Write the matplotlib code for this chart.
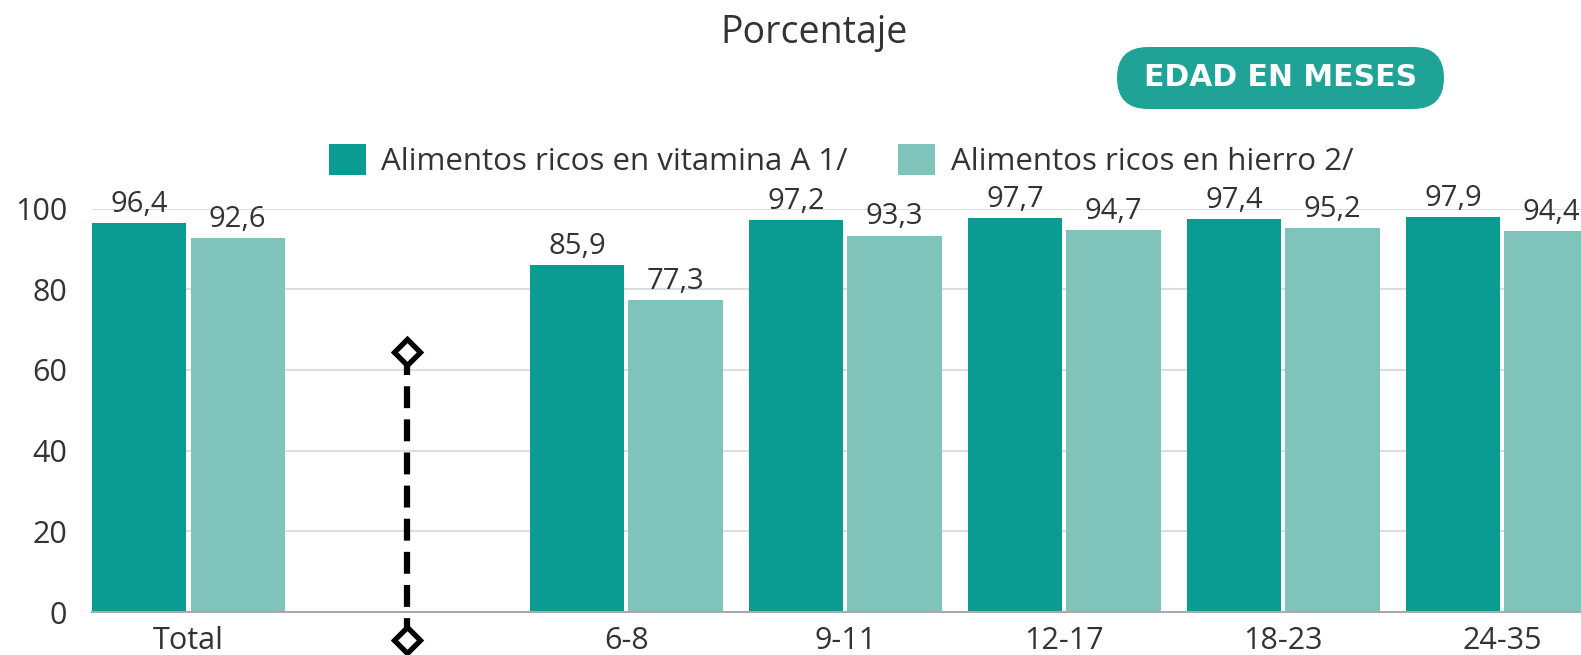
import matplotlib
matplotlib.use("Agg")
import matplotlib.pyplot as plt
from matplotlib.patches import Patch, FancyBboxPatch
from matplotlib.transforms import IdentityTransform

# --- Datos ---
categorias = ["Total", "", "6-8", "9-11", "12-17", "18-23", "24-35"]
vitamina_a = [96.4, None, 85.9, 97.2, 97.7, 97.4, 97.9]
hierro = [92.6, None, 77.3, 93.3, 94.7, 95.2, 94.4]
etiquetas_y = [0, 20, 40, 60, 80, 100]
serie_nombres = ["Alimentos ricos en vitamina A 1/", "Alimentos ricos en hierro 2/"]
separador_y = [-7, 64.5]

C_DARK = "#0a9c92"
C_LIGHT = "#80c3bb"
C_TEXT = "#333333"

plt.rcParams["font.family"] = ["Open Sans", "DejaVu Sans"]

fig = plt.figure(figsize=(15.81, 6.55), dpi=100)
fig.patch.set_facecolor("white")
ax = fig.add_axes([0.0582, 0.0656, 0.9418, 0.616])

ancho = 0.43
desp = 0.225
for i, (va, hi) in enumerate(zip(vitamina_a, hierro)):
    if va is None:
        continue
    ax.bar(i - desp, va, width=ancho, color=C_DARK, zorder=2)
    ax.bar(i + desp, hi, width=ancho, color=C_LIGHT, zorder=2)
    ax.annotate(f"{va:.1f}".replace(".", ","), (i - desp, va), xytext=(0, 3),
                textcoords="offset points", ha="center", va="bottom",
                fontsize=21, color=C_TEXT, annotation_clip=False)
    ax.annotate(f"{hi:.1f}".replace(".", ","), (i + desp, hi), xytext=(0, 3),
                textcoords="offset points", ha="center", va="bottom",
                fontsize=21, color=C_TEXT, annotation_clip=False)

# separador punteado entre Total y grupos de edad
sep_x = categorias.index("")
ax.plot([sep_x, sep_x], separador_y, color="black", lw=4.5,
        linestyle=(0, (3.5, 1.8)), clip_on=False, zorder=4)
ax.plot([sep_x, sep_x], separador_y, linestyle="none", marker="D",
        markersize=13, markerfacecolor="white", markeredgecolor="black",
        markeredgewidth=3.8, clip_on=False, zorder=5)

ax.set_xlim(-0.44, 6.36)
ax.set_ylim(0, 100)
ax.set_yticks(etiquetas_y)
ax.set_xticks([i for i, c in enumerate(categorias) if c])
ax.set_xticklabels([c for c in categorias if c])
ax.tick_params(axis="y", length=0, pad=18, labelsize=22, labelcolor=C_TEXT)
ax.tick_params(axis="x", length=0, pad=10, labelsize=22, labelcolor=C_TEXT)
ax.grid(axis="y", color="#dddddd", lw=1.5, zorder=0)
for s in ["top", "right", "left"]:
    ax.spines[s].set_visible(False)
ax.spines["bottom"].set_color("#aaaaaa")
ax.spines["bottom"].set_linewidth(1.5)
ax.spines["bottom"].set_zorder(3)

# titulo
fig.text(0.515, 0.950, "Porcentaje", ha="center", va="center",
         fontsize=27, color=C_TEXT)

# leyenda
handles = [Patch(facecolor=C_DARK, edgecolor="none"),
           Patch(facecolor=C_LIGHT, edgecolor="none")]
fig.legend(handles, serie_nombres, loc="center", bbox_to_anchor=(0.532, 0.755),
           ncol=2, frameon=False, fontsize=22.5, handlelength=1.18,
           handleheight=1.18, handletextpad=0.5, columnspacing=1.6,
           labelcolor=C_TEXT)

# etiqueta "EDAD EN MESES" (en pixeles)
badge = FancyBboxPatch((1117, 546), 327, 62,
                       boxstyle="round,pad=0,rounding_size=31",
                       transform=IdentityTransform(), facecolor="#1fa397",
                       edgecolor="none")
fig.patches.append(badge)
fig.text(1280.5 / 1581, 577 / 655, "EDAD EN MESES", ha="center", va="center",
         fontsize=21.5, fontweight="bold", color="white", family="DejaVu Sans")

fig.savefig("out.png", dpi=100, facecolor="white")
